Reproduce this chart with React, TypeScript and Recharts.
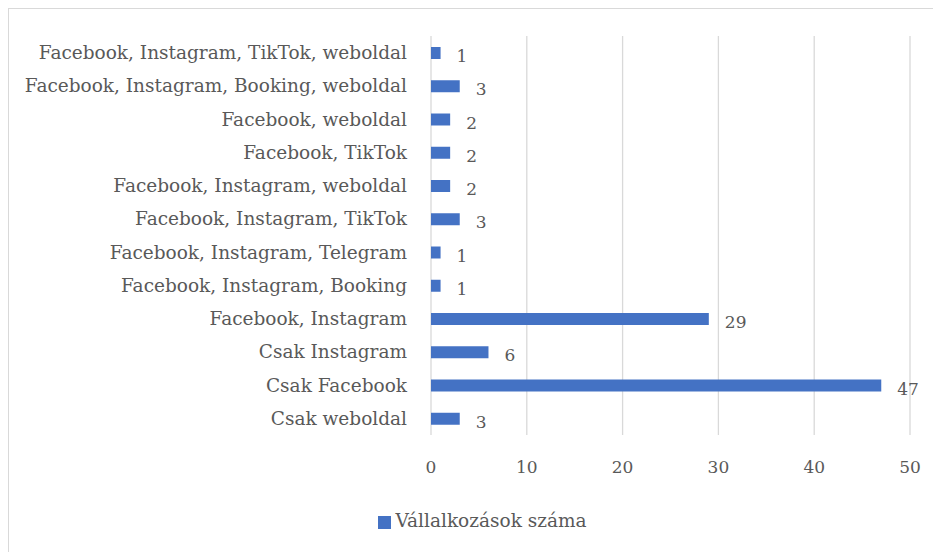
import { BarChart, Bar, XAxis, YAxis, CartesianGrid, Legend, LabelList } from "recharts";

const categories = [
  "Facebook, Instagram, TikTok, weboldal",
  "Facebook, Instagram, Booking, weboldal",
  "Facebook, weboldal",
  "Facebook, TikTok",
  "Facebook, Instagram, weboldal",
  "Facebook, Instagram, TikTok",
  "Facebook, Instagram, Telegram",
  "Facebook, Instagram, Booking",
  "Facebook, Instagram",
  "Csak Instagram",
  "Csak Facebook",
  "Csak weboldal",
];

const counts = [1, 3, 2, 2, 2, 3, 1, 1, 29, 6, 47, 3];

const xTicks = [0, 10, 20, 30, 40, 50];

const seriesName = "Vállalkozások száma";

const data = categories.map((name, i) => ({ name, value: counts[i] }));

const FONT = "'DejaVu Serif', Georgia, serif";
const TEXT = "#595959";
const BLUE = "#4472C4";

export default function App() {
  return (
    <div style={{ width: 941, height: 552, border: "1px solid #d9d9d9", boxSizing: "border-box", background: "#fff", fontFamily: FONT }}>
      <BarChart
        width={939}
        height={550}
        data={data}
        layout="vertical"
        margin={{ top: 27, right: 38, left: 0, bottom: 28 }}
        barCategoryGap={0}
      >
        <CartesianGrid stroke="#d9d9d9" strokeWidth={1.3} horizontal={false} />
        <XAxis
          type="number"
          domain={[0, 50]}
          ticks={xTicks}
          axisLine={false}
          tickLine={false}
          tickSize={0}
          tickMargin={26}
          height={75}
          tick={{ fontSize: 17, fill: TEXT, fontFamily: FONT }}
        />
        <YAxis
          type="category"
          dataKey="name"
          width={422}
          axisLine={false}
          tickLine={false}
          tickSize={0}
          tickMargin={24}
          interval={0}
          tick={{ fontSize: 18.5, fill: TEXT, fontFamily: FONT }}
        />
        <Legend
          verticalAlign="bottom"
          iconType="square"
          iconSize={13}
          wrapperStyle={{ fontSize: 18.5, fontFamily: FONT, paddingLeft: 28 }}
          formatter={(v: string) => <span style={{ color: TEXT }}>{v}</span>}
        />
        <Bar dataKey="value" name={seriesName} fill={BLUE} barSize={12} isAnimationActive={false}>
          <LabelList dataKey="value" position="right" offset={16} dy={3} style={{ fontSize: 17, fill: TEXT, fontFamily: FONT }} />
        </Bar>
      </BarChart>
    </div>
  );
}
